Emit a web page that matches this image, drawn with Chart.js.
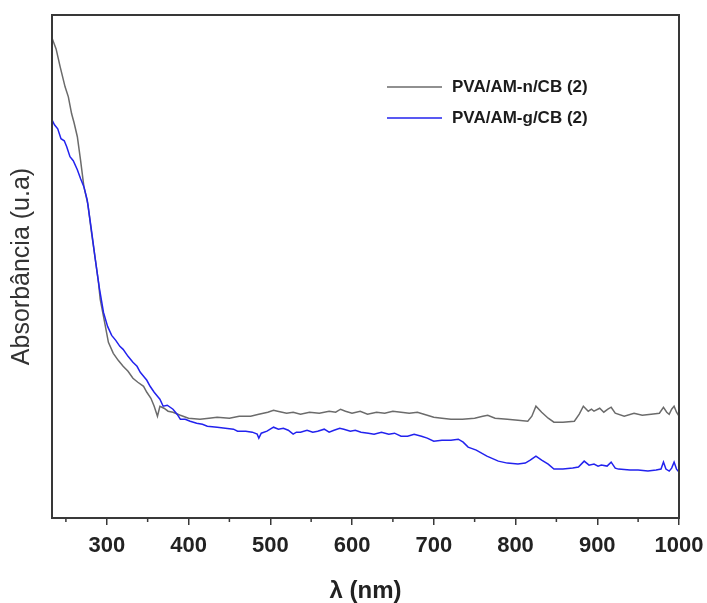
<!DOCTYPE html>
<html>
<head>
<meta charset="utf-8">
<script src="https://cdn.jsdelivr.net/npm/chart.js@4.4.1/dist/chart.umd.min.js"></script>
<style>
  html, body { margin: 0; padding: 0; background: #fff; }
</style>
</head>
<body>
<canvas id="chart" width="707" height="603"></canvas>
<script>
// PVA/AM-n/CB (2)
const grayNm = [233, 238, 243, 249, 253, 257, 260, 264, 268, 272, 277, 281, 286, 290, 292, 296, 302, 308, 314, 320,
    326, 332, 338, 345, 349, 354, 358, 362, 365, 370, 375, 381, 390, 400, 414, 425, 435, 450, 462, 476,
    486, 497, 504, 509, 520, 528, 537, 548, 560, 572, 580, 586, 592, 600, 610, 619, 630, 640, 650, 660,
    670, 680, 688, 700, 710, 721, 735, 750, 760, 766, 775, 790, 803, 815, 820, 825, 832, 840, 847, 858,
    872, 878, 883, 889, 893, 896, 903, 908, 913, 917, 922, 933, 945, 955, 966, 976, 981, 985, 988, 991,
    994, 997, 1000];
const grayAbs = [4.81, 4.70, 4.52, 4.32, 4.22, 4.05, 3.96, 3.82, 3.58, 3.32, 3.14, 2.88, 2.59, 2.35, 2.19, 2.02, 1.76, 1.65, 1.58, 1.52,
    1.47, 1.40, 1.36, 1.32, 1.26, 1.20, 1.12, 1.02, 1.12, 1.10, 1.07, 1.06, 1.03, 1.00, 0.99, 1.00, 1.01, 1.00, 1.02, 1.02,
    1.04, 1.06, 1.08, 1.07, 1.05, 1.06, 1.04, 1.06, 1.05, 1.07, 1.06, 1.09, 1.07, 1.05, 1.07, 1.04, 1.06, 1.05, 1.07, 1.06,
    1.05, 1.06, 1.04, 1.01, 1.00, 0.99, 0.99, 1.00, 1.02, 1.03, 1.00, 0.99, 0.98, 0.97, 1.02, 1.12, 1.06, 1.00, 0.96, 0.96,
    0.97, 1.04, 1.12, 1.07, 1.09, 1.07, 1.10, 1.06, 1.09, 1.11, 1.05, 1.02, 1.05, 1.03, 1.04, 1.05, 1.11, 1.06, 1.04, 1.09,
    1.12, 1.06, 1.02];

// PVA/AM-g/CB (2)
const blueNm = [233, 236, 240, 244, 248, 251, 255, 259, 264, 268, 272, 276, 281, 286, 291, 296, 301, 306, 311, 316,
    320, 326, 332, 337, 341, 345, 349, 353, 358, 362, 365, 369, 374, 381, 386, 390, 396, 402, 410, 417,
    423, 435, 445, 455, 460, 470, 478, 484, 486, 489, 496, 504, 510, 516, 522, 528, 532, 537, 545, 552,
    558, 566, 572, 578, 585, 590, 598, 604, 611, 620, 627, 636, 645, 652, 660, 668, 676, 685, 692, 700,
    710, 721, 730, 736, 742, 752, 765, 779, 790, 803, 812, 818, 825, 832, 840, 847, 858, 870, 877, 884,
    890, 896, 901, 905, 912, 917, 922, 926, 940, 950, 962, 972, 978, 981, 984, 988, 991, 994, 997, 1000];
const blueAbs = [3.99, 3.94, 3.90, 3.80, 3.78, 3.72, 3.62, 3.58, 3.49, 3.40, 3.32, 3.19, 2.90, 2.59, 2.30, 2.06, 1.92, 1.83, 1.78, 1.72,
    1.69, 1.62, 1.56, 1.52, 1.46, 1.42, 1.38, 1.32, 1.26, 1.22, 1.19, 1.12, 1.13, 1.09, 1.04, 0.99, 0.99, 0.97, 0.95, 0.94,
    0.92, 0.91, 0.90, 0.89, 0.87, 0.87, 0.86, 0.84, 0.80, 0.85, 0.87, 0.91, 0.89, 0.90, 0.88, 0.84, 0.86, 0.86, 0.88, 0.86,
    0.87, 0.89, 0.86, 0.88, 0.90, 0.89, 0.87, 0.88, 0.86, 0.85, 0.84, 0.86, 0.84, 0.85, 0.82, 0.82, 0.84, 0.82, 0.80, 0.77,
    0.78, 0.78, 0.79, 0.76, 0.71, 0.68, 0.62, 0.57, 0.55, 0.54, 0.55, 0.58, 0.62, 0.58, 0.54, 0.49, 0.49, 0.50, 0.51, 0.57,
    0.53, 0.54, 0.52, 0.53, 0.52, 0.56, 0.50, 0.49, 0.48, 0.48, 0.47, 0.48, 0.49, 0.56, 0.49, 0.47, 0.50, 0.56, 0.49, 0.46];

const majorTicks = [300, 400, 500, 600, 700, 800, 900, 1000];
const minorTicks = [250, 350, 450, 550, 650, 750, 850, 950];

const grayColor = '#6b6b6b';
const blueColor = '#2222ee';
const fam = '"Liberation Sans", Arial, sans-serif';

function toPoints(xs, ys) {
    let pts = [];
    for (let i = 0; i < xs.length; i++) {
        pts.push({ x: xs[i], y: ys[i] });
    }
    return pts;
}

const framePlugin = {
    id: 'frame',
    afterDraw: function (chart) {
        const ctx = chart.ctx;
        const a = chart.chartArea;
        const xs = chart.scales.x;
        ctx.save();
        ctx.strokeStyle = '#383838';
        ctx.lineWidth = 2;
        ctx.strokeRect(a.left, a.top, a.right - a.left, a.bottom - a.top);

        // minor ticks
        ctx.lineWidth = 1.5;
        ctx.beginPath();
        minorTicks.forEach(function (v) {
            const px = xs.getPixelForValue(v);
            ctx.moveTo(px, a.bottom);
            ctx.lineTo(px, a.bottom + 4);
        });
        ctx.stroke();

        // legend
        const items = chart.data.datasets;
        ctx.font = 'bold 17px ' + fam;
        ctx.textBaseline = 'middle';
        ctx.fillStyle = '#1c1c1c';
        const rows = [87, 118];
        for (let i = 0; i < items.length; i++) {
            ctx.strokeStyle = items[i].borderColor;
            ctx.lineWidth = 1.5;
            ctx.beginPath();
            ctx.moveTo(387, rows[i]);
            ctx.lineTo(442, rows[i]);
            ctx.stroke();
            ctx.fillText(items[i].label, 452, rows[i]);
        }
        ctx.restore();
    }
};

new Chart(document.getElementById('chart'), {
    type: 'line',
    data: {
        datasets: [{
            label: 'PVA/AM-n/CB (2)',
            data: toPoints(grayNm, grayAbs),
            borderColor: grayColor,
            borderWidth: 1.5,
            pointRadius: 0,
            fill: false,
            order: 1
        }, {
            label: 'PVA/AM-g/CB (2)',
            data: toPoints(blueNm, blueAbs),
            borderColor: blueColor,
            borderWidth: 1.5,
            pointRadius: 0,
            fill: false,
            order: 0
        }]
    },
    options: {
        responsive: false,
        animation: false,
        devicePixelRatio: 1,
        layout: { autoPadding: false, padding: { left: 3, right: 28, top: 15, bottom: 0 } },
        plugins: {
            legend: { display: false },
            tooltip: { enabled: false }
        },
        scales: {
            x: {
                type: 'linear',
                min: 233,
                max: 1000,
                afterBuildTicks: function (scale) {
                    scale.ticks = majorTicks.map(function (v) { return { value: v }; });
                },
                grid: { drawOnChartArea: false, tickLength: 7, color: '#383838', lineWidth: 1.5 },
                border: { display: false },
                ticks: {
                    autoSkip: false,
                    maxRotation: 0,
                    padding: 3,
                    color: '#222',
                    font: { family: fam, size: 22, weight: 'bold', lineHeight: 1.636 },
                    callback: function (v) { return String(v); }
                },
                title: {
                    display: true,
                    text: 'λ (nm)',
                    color: '#222',
                    font: { family: fam, size: 24, weight: 'bold', lineHeight: 1 },
                    padding: { top: 12, bottom: 0 }
                }
            },
            y: {
                min: 0,
                max: 5.04,
                grid: { display: false, drawTicks: false },
                border: { display: false },
                ticks: { display: false },
                title: {
                    display: true,
                    text: 'Absorbância (u.a)',
                    color: '#333',
                    font: { family: fam, size: 25 },
                    padding: { top: 4, bottom: 15 }
                }
            }
        }
    },
    plugins: [framePlugin]
});
</script>
</body>
</html>
